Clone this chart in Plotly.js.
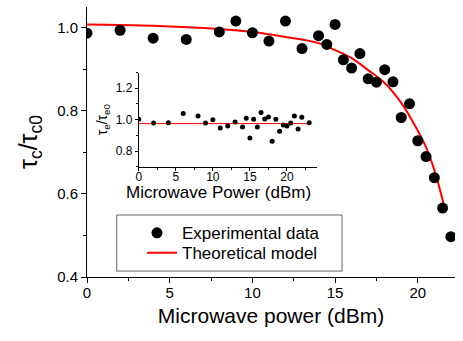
<!DOCTYPE html>
<html>
<head>
<meta charset="utf-8">
<script src="https://cdn.plot.ly/plotly-3.0.1.min.js"></script>
<style>
  html, body { margin: 0; padding: 0; background: #fff; }
  #plot { width: 463px; height: 341px; }
</style>
</head>
<body>
<div id="plot"></div>
<script>
// main panel: experimental points
let powerExp = [0, 2, 4, 6, 8, 9, 10, 11, 12, 13, 14, 14.5, 15, 15.5, 16, 16.5, 17, 17.5, 18, 18.5, 19, 19.5, 20, 20.5, 21, 21.5, 22];
let tauExp = [0.987, 0.994, 0.975, 0.972, 0.99, 1.016, 0.988, 0.968, 1.016, 0.95, 0.981, 0.96, 1.008, 0.923, 0.903, 0.938, 0.877, 0.869, 0.899, 0.87, 0.784, 0.817, 0.728, 0.69, 0.639, 0.566, 0.497];

// main panel: model curve
let powerModel = [0, 4, 8, 10, 12, 14, 15, 16, 17, 18, 19, 20, 20.5, 21, 21.6];
let tauModel = [1.008, 1.005, 0.997, 0.99, 0.978, 0.963, 0.946, 0.927, 0.898, 0.867, 0.819, 0.752, 0.712, 0.658, 0.57];

// inset: tau_e / tau_e0
let powerInset = [0, 2, 4, 6, 8, 9, 10, 11, 12, 13, 14, 14.5, 15, 15.5, 16, 16.5, 17, 17.5, 18, 18.5, 19, 19.5, 20, 20.5, 21, 21.5, 22, 23];
let tauInset = [1.002, 0.979, 0.981, 1.04, 1.023, 0.979, 1.0, 0.947, 0.96, 0.985, 0.953, 1.009, 0.883, 1.002, 0.953, 1.045, 1.004, 1.017, 0.862, 1.002, 0.926, 0.966, 0.96, 0.979, 1.023, 0.94, 1.015, 0.981];
let insetLineX = [0, 23];
let insetLineY = [0.975, 0.975];

let font = 'Liberation Sans, Arial, sans-serif';

let expTrace = {
    x: powerExp,
    y: tauExp,
    mode: 'markers',
    type: 'scatter',
    name: 'Experimental data',
    legend: 'legend',
    marker: {color: 'black', size: 11}
};

let modelTrace = {
    x: powerModel,
    y: tauModel,
    mode: 'lines',
    type: 'scatter',
    name: 'Theoretical model',
    legend: 'legend2',
    line: {color: '#ff0000', width: 2, shape: 'spline'}
};

let insetPts = {
    x: powerInset,
    y: tauInset,
    xaxis: 'x2',
    yaxis: 'y2',
    mode: 'markers',
    type: 'scatter',
    showlegend: false,
    marker: {color: 'black', size: 5}
};

let insetLine = {
    x: insetLineX,
    y: insetLineY,
    xaxis: 'x2',
    yaxis: 'y2',
    mode: 'lines',
    type: 'scatter',
    showlegend: false,
    line: {color: '#ff0000', width: 1}
};

let data = [modelTrace, expTrace, insetLine, insetPts];

let axisBase = {
    showgrid: false,
    zeroline: false,
    showline: true,
    linecolor: 'black',
    linewidth: 1,
    ticks: 'outside',
    tickcolor: 'black',
    automargin: false
};

// one legend per row so the rows sit where the reference has them
let legendBase = {
    xanchor: 'left', yanchor: 'middle',
    borderwidth: 0,
    bgcolor: 'rgba(0,0,0,0)',
    font: {size: 17, family: font}
};

let layout = {
    width: 463,
    height: 341,
    margin: {l: 87, r: 8, t: 7, b: 64},
    paper_bgcolor: 'white',
    plot_bgcolor: 'white',
    font: {family: font, color: 'black'},
    showlegend: true,
    legend: Object.assign({}, legendBase, {x: 0.1223, y: 0.162, itemwidth: 40}),
    legend2: Object.assign({}, legendBase, {x: 0.1495, y: 0.088, itemwidth: 30}),
    // legend frame
    shapes: [{
        type: 'rect', xref: 'paper', yref: 'paper',
        x0: 0.0808, x1: 0.693, y0: 0.022, y1: 0.2296,
        line: {color: '#666', width: 1}
    }],
    annotations: [{
        text: 'Microwave Power (dBm)',
        xref: 'paper', yref: 'paper',
        x: 0.358, y: 0.314,
        xanchor: 'center', yanchor: 'middle',
        showarrow: false,
        font: {size: 17}
    }],
    xaxis: Object.assign({}, axisBase, {
        range: [0, 22.25],
        dtick: 5, tick0: 0, ticklen: 5,
        ticklabelstandoff: -3,
        minor: {dtick: 2.5, ticklen: 3, ticks: 'outside', tickcolor: 'black'},
        tickfont: {size: 15},
        title: {text: 'Microwave power (dBm)', font: {size: 21}, standoff: 8}
    }),
    yaxis: Object.assign({}, axisBase, {
        range: [0.4, 1.05],
        dtick: 0.2, tick0: 0.4, ticklen: 5, tickformat: '.1f',
        minor: {dtick: 0.1, ticklen: 3, ticks: 'outside', tickcolor: 'black'},
        tickfont: {size: 15},
        title: {text: 'τ<sub>c</sub>/τ<sub>c0</sub>', font: {size: 25}, standoff: 12}
    }),
    xaxis2: Object.assign({}, axisBase, {
        domain: [0.1406, 0.624],
        anchor: 'y2',
        range: [0, 24],
        dtick: 5, tick0: 0, ticklen: 3,
        ticklabelstandoff: -4,
        minor: {dtick: 2.5, ticklen: 2, ticks: 'outside', tickcolor: 'black'},
        tickfont: {size: 12}
    }),
    yaxis2: Object.assign({}, axisBase, {
        domain: [0.4085, 0.757],
        anchor: 'x2',
        range: [0.7, 1.3],
        dtick: 0.2, tick0: 0.8, ticklen: 3, tickformat: '.1f',
        minor: {dtick: 0.1, ticklen: 2, ticks: 'outside', tickcolor: 'black'},
        tickfont: {size: 12},
        title: {text: 'τ<sub>e</sub>/τ<sub>e0</sub>', font: {size: 14}, standoff: 4}
    })
};

Plotly.newPlot('plot', data, layout, {staticPlot: true});
</script>
</body>
</html>
